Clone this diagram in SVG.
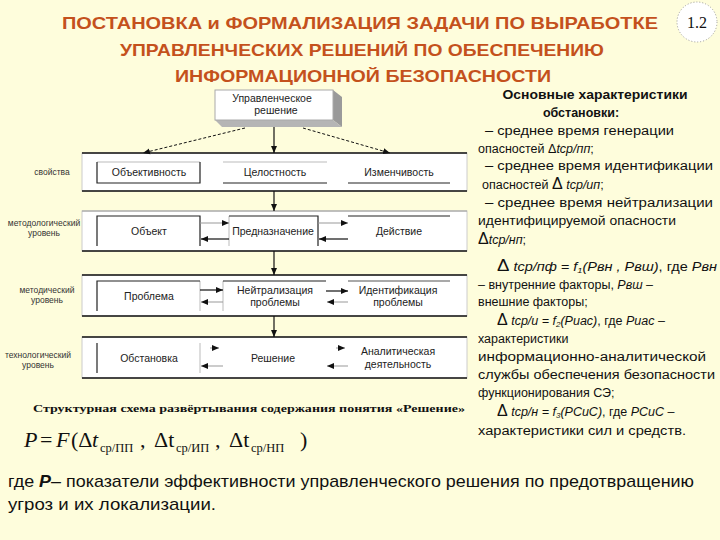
<svg xmlns="http://www.w3.org/2000/svg" width="720" height="540" viewBox="0 0 720 540">
<style>
.title{font-family:"Liberation Sans",Arial,sans-serif;font-weight:bold;font-size:17px;fill:#C4511C}
.lbl{font-family:"Liberation Sans",Arial,sans-serif;font-size:10.5px;fill:#222}
.side{font-family:"Liberation Sans",Arial,sans-serif;font-size:8.5px;fill:#333}
.rt{font-family:"Liberation Sans",Arial,sans-serif;font-size:12.5px;fill:#111}
.it{font-style:italic}
.dk{stroke:#222;stroke-width:1.2;fill:none}
.lt{stroke:#bbb;stroke-width:1;fill:none}
.row{fill:#fff;stroke:#ccc;stroke-width:1}
.rl{stroke:#111;stroke-width:1.5}
.ar{stroke:#111;stroke-width:1.2;fill:none;marker-end:url(#ah)}
.ag{stroke:#999;stroke-width:1;fill:none;marker-end:url(#ah)}
.dash{stroke:#111;stroke-width:1;fill:none;stroke-dasharray:3,2;marker-end:url(#ah)}
.f{font-family:"Liberation Serif","Times New Roman",serif;font-size:22px;fill:#111}
.fs{font-family:"Liberation Serif","Times New Roman",serif;font-size:12.5px;fill:#111}
</style>
<defs>
<marker id="ah" markerWidth="8" markerHeight="8" refX="7" refY="4" orient="auto" markerUnits="userSpaceOnUse">
<path d="M0,1 L7,4 L0,7 Z" fill="#111"/>
</marker>
</defs>
<rect width="720" height="540" fill="#FEFDDC"/>

<g id="title">
<text class="title" x="62" y="29" textLength="596" lengthAdjust="spacingAndGlyphs">ПОСТАНОВКА и ФОРМАЛИЗАЦИЯ ЗАДАЧИ ПО ВЫРАБОТКЕ</text>
<text class="title" x="120" y="56" textLength="484" lengthAdjust="spacingAndGlyphs">УПРАВЛЕНЧЕСКИХ РЕШЕНИЙ ПО ОБЕСПЕЧЕНИЮ</text>
<text class="title" x="175" y="82" textLength="376" lengthAdjust="spacingAndGlyphs">ИНФОРМАЦИОННОЙ БЕЗОПАСНОСТИ</text>
</g>

<g id="badge">
<circle cx="697" cy="22" r="20" fill="#fff" stroke="#999" stroke-width="1" stroke-dasharray="1,2"/>
<text x="697" y="28" text-anchor="middle" font-family="Liberation Serif,serif" font-size="16" fill="#111">1.2</text>
</g>

<g id="rows">
<rect class="row" x="82" y="153" width="385" height="38"/>
<line class="rl" x1="82" y1="153" x2="467" y2="153"/><line class="rl" x1="82" y1="191" x2="467" y2="191"/>
<rect class="row" x="82" y="211" width="385" height="40"/>
<line x1="82" y1="211" x2="467" y2="211" stroke="#999" stroke-width="1.2"/><line class="rl" x1="82" y1="251" x2="467" y2="251"/>
<rect class="row" x="82" y="275" width="385" height="41"/>
<line class="rl" x1="82" y1="275" x2="467" y2="275"/><line class="rl" x1="82" y1="316" x2="467" y2="316"/>
<rect class="row" x="82" y="337" width="385" height="41"/>
<line class="rl" x1="82" y1="337" x2="467" y2="337"/><line class="rl" x1="82" y1="378" x2="467" y2="378"/>
</g>

<g id="side-labels">
<text class="side" x="52" y="175" text-anchor="middle">свойства</text>
<text class="side" x="44" y="226" text-anchor="middle">методологический</text>
<text class="side" x="44" y="236" text-anchor="middle">уровень</text>
<text class="side" x="47" y="293" text-anchor="middle">методический</text>
<text class="side" x="47" y="303" text-anchor="middle">уровень</text>
<text class="side" x="38" y="358" text-anchor="middle">технологический</text>
<text class="side" x="38" y="368" text-anchor="middle">уровень</text>
</g>

<g id="n-decision">
<polygon points="333,90 342,97 342,127 333,120" fill="#9a9a9a"/>
<polygon points="215,120 333,120 342,127 222,127" fill="#b5b5b5"/>
<rect x="215" y="90" width="118" height="30" fill="#fff" stroke="#aaa" stroke-width="1"/>
<text class="lbl" x="272" y="102" text-anchor="middle">Управленческое</text>
<text class="lbl" x="276" y="114" text-anchor="middle">решение</text>
</g>

<g id="n-objectivity">
<line class="lt" x1="97" y1="162" x2="200" y2="162"/>
<polyline class="dk" points="97,162 97,183 200,183 200,162"/>
<text class="lbl" x="149" y="176" text-anchor="middle">Объективность</text>
</g>
<g id="n-integrity">
<line class="lt" x1="223" y1="162" x2="327" y2="162"/>
<line class="dk" x1="223" y1="183" x2="327" y2="183"/>
<text class="lbl" x="275" y="176" text-anchor="middle">Целостность</text>
</g>
<g id="n-variability">
<line class="dk" x1="348" y1="183" x2="450" y2="183"/>
<text class="lbl" x="399" y="176" text-anchor="middle">Изменчивость</text>
</g>

<g id="n-object">
<polyline class="dk" points="97,246 97,216 200,216 200,246"/>
<text class="lbl" x="149" y="235" text-anchor="middle">Объект</text>
</g>
<g id="n-purpose">
<line class="lt" x1="229" y1="216" x2="229" y2="246"/>
<polyline class="dk" points="229,216 318,216 318,246"/>
<text class="lbl" x="273" y="235" text-anchor="middle">Предназначение</text>
</g>
<g id="n-action">
<line class="dk" x1="348" y1="216" x2="450" y2="216"/>
<text class="lbl" x="399" y="235" text-anchor="middle">Действие</text>
</g>

<g id="n-problem">
<line class="lt" x1="200" y1="281" x2="200" y2="311"/>
<polyline class="dk" points="97,311 97,281 200,281"/>
<text class="lbl" x="149" y="300" text-anchor="middle">Проблема</text>
</g>
<g id="n-neutralization">
<line class="lt" x1="223" y1="281" x2="223" y2="311"/>
<line class="dk" x1="223" y1="281" x2="326" y2="281"/>
<text class="lbl" x="275" y="294" text-anchor="middle">Нейтрализация</text>
<text class="lbl" x="275" y="306" text-anchor="middle">проблемы</text>
</g>
<g id="n-identification">
<line x1="348" y1="281" x2="450" y2="281" stroke="#555" stroke-width="1.2"/>
<text class="lbl" x="398" y="294" text-anchor="middle">Идентификация</text>
<text class="lbl" x="398" y="306" text-anchor="middle">проблемы</text>
</g>

<g id="n-situation">
<line class="lt" x1="200" y1="343" x2="200" y2="373"/>
<line class="dk" x1="97" y1="343" x2="97" y2="373"/>
<text class="lbl" x="149" y="362" text-anchor="middle">Обстановка</text>
</g>
<g id="n-solution">
<text class="lbl" x="273" y="362" text-anchor="middle">Решение</text>
</g>
<g id="n-analytics">
<text class="lbl" x="398" y="355" text-anchor="middle">Аналитическая</text>
<text class="lbl" x="398" y="368" text-anchor="middle">деятельность</text>
</g>

<g id="connectors">
<line class="dash" x1="245" y1="128" x2="143" y2="153"/>
<line class="dash" x1="303" y1="128" x2="390" y2="153"/>
<line class="ar" x1="274" y1="127" x2="274" y2="153"/>
<line class="ar" x1="274" y1="191" x2="274" y2="211"/>
<line class="ar" x1="274" y1="251" x2="274" y2="275"/>
<line class="ar" x1="274" y1="316" x2="274" y2="337"/>
<line class="ag" x1="200" y1="223" x2="229" y2="223"/>
<line class="ar" x1="229" y1="239" x2="201" y2="239"/>
<line class="ag" x1="318" y1="223" x2="348" y2="223"/>
<line class="ar" x1="348" y1="239" x2="319" y2="239"/>
<line class="ar" x1="200" y1="290" x2="223" y2="290"/>
<line class="ag" x1="223" y1="302" x2="201" y2="302"/>
<line class="ar" x1="326" y1="291" x2="348" y2="291"/>
<line class="ag" x1="348" y1="302" x2="327" y2="302"/>
<line class="ag" x1="210" y1="348" x2="219" y2="348"/>
<line class="ag" x1="223" y1="366" x2="201" y2="366"/>
<line class="ag" x1="336" y1="348" x2="345" y2="348"/>
<line class="ag" x1="348" y1="366" x2="327" y2="366"/>
</g>

<g id="caption">
<text x="33" y="412" font-family="Liberation Serif,serif" font-weight="bold" font-size="11" fill="#111" textLength="432" lengthAdjust="spacingAndGlyphs">Структурная схема развёртывания содержания понятия «Решение»</text>
</g>

<g id="formula">
<text class="f it" x="24" y="447">P</text>
<text class="f" x="40" y="447">=</text>
<text class="f it" x="56" y="447">F</text>
<text class="f" x="71" y="447">(Δ</text>
<text class="f it" x="92" y="447">t</text>
<text class="fs" x="100" y="452">ср/ПП</text>
<text class="f" x="140" y="447">,</text>
<text class="f" x="154" y="447">Δt</text>
<text class="fs" x="176" y="452">ср/ИП</text>
<text class="f" x="215" y="447">,</text>
<text class="f" x="229" y="447">Δt</text>
<text class="fs" x="251" y="452">ср/НП</text>
<text class="f" x="300" y="447">)</text>
</g>

<g id="right-text">
<text class="rt" x="595" y="99" text-anchor="middle" font-weight="bold" textLength="185" lengthAdjust="spacingAndGlyphs">Основные характеристики</text>
<text class="rt" x="581" y="117" text-anchor="middle" font-weight="bold">обстановки:</text>
<text class="rt" x="485" y="135" textLength="189" lengthAdjust="spacingAndGlyphs">– среднее время генерации</text>
<text class="rt" x="478" y="153">опасностей <tspan>Δ</tspan><tspan class="it">tср/пп</tspan>;</text>
<text class="rt" x="485" y="170" textLength="228" lengthAdjust="spacingAndGlyphs">– среднее время идентификации</text>
<text class="rt" x="482" y="189">опасностей <tspan font-size="16">Δ</tspan> <tspan class="it">tср/ип</tspan>;</text>
<text class="rt" x="485" y="207" textLength="228" lengthAdjust="spacingAndGlyphs">– среднее время нейтрализации</text>
<text class="rt" x="478" y="225" textLength="198" lengthAdjust="spacingAndGlyphs">идентифицируемой опасности</text>
<text class="rt" x="478" y="244"><tspan font-size="16">Δ</tspan><tspan class="it">tср/нп</tspan>;</text>

<text class="rt" x="497" y="271" textLength="220" lengthAdjust="spacingAndGlyphs"><tspan font-size="16">Δ</tspan> <tspan class="it">tср/пф = f</tspan><tspan class="it" font-size="8" dy="2">1</tspan><tspan class="it" dy="-2">(Рвн , Рвш)</tspan>, где <tspan class="it">Рвн</tspan></text>
<text class="rt" x="478" y="289">– внутренние факторы, <tspan class="it">Рвш</tspan> –</text>
<text class="rt" x="478" y="306">внешние факторы;</text>
<text class="rt" x="497" y="325"><tspan font-size="16">Δ</tspan> <tspan class="it">tср/и = f</tspan><tspan class="it" font-size="8" dy="2">2</tspan><tspan class="it" dy="-2">(Риас)</tspan>, где <tspan class="it">Риас</tspan> –</text>
<text class="rt" x="478" y="343">характеристики</text>
<text class="rt" x="478" y="361" textLength="228" lengthAdjust="spacingAndGlyphs">информационно-аналитической</text>
<text class="rt" x="478" y="379" textLength="237" lengthAdjust="spacingAndGlyphs">службы обеспечения безопасности</text>
<text class="rt" x="478" y="397">функционирования СЭ;</text>
<text class="rt" x="497" y="416"><tspan font-size="16">Δ</tspan> <tspan class="it">tср/н = f</tspan><tspan class="it" font-size="8" dy="2">3</tspan><tspan class="it" dy="-2">(РСиС)</tspan>, где <tspan class="it">РСиС</tspan> –</text>
<text class="rt" x="478" y="435" textLength="208" lengthAdjust="spacingAndGlyphs">характеристики сил и средств.</text>
</g>

<g id="bottom-text">
<text x="8" y="487" font-family="Liberation Sans,Arial,sans-serif" font-size="17" fill="#111" textLength="686" lengthAdjust="spacingAndGlyphs">где <tspan font-weight="bold" font-style="italic">P</tspan>– показатели эффективности управленческого решения по предотвращению</text>
<text x="8" y="510" font-family="Liberation Sans,Arial,sans-serif" font-size="17" fill="#111" textLength="208" lengthAdjust="spacingAndGlyphs">угроз и их локализации.</text>
</g>
</svg>
